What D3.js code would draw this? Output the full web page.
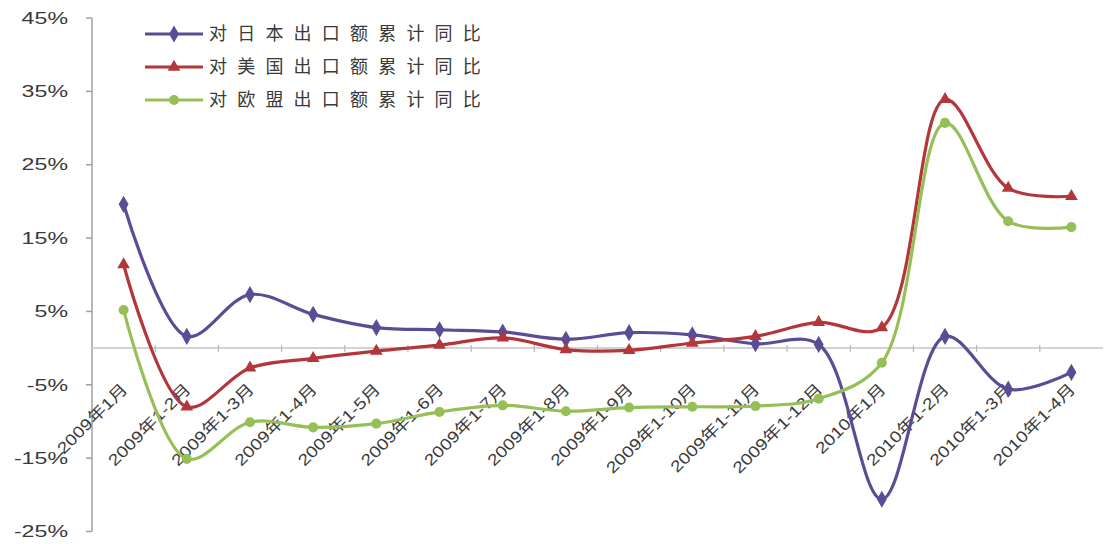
<!DOCTYPE html>
<html>
<head>
  <meta charset="utf-8">
  <title>对日美欧出口额累计同比</title>
  <script src="https://d3js.org/d3.v7.min.js"></script>
  <style>
    body { margin: 0; background: #fff; }
    text { font-family: "Liberation Sans", "Noto Sans CJK SC", sans-serif; fill: #3a3a3a; }
  </style>
</head>
<body>
  <svg id="chart"></svg>

  <script>
    // Data
    const months = ["2009年1月", "2009年1-2月", "2009年1-3月", "2009年1-4月", "2009年1-5月",
                    "2009年1-6月", "2009年1-7月", "2009年1-8月", "2009年1-9月", "2009年1-10月",
                    "2009年1-11月", "2009年1-12月", "2010年1月", "2010年1-2月", "2010年1-3月",
                    "2010年1-4月"];
    const japan = [19.6, 1.6, 7.3, 4.6, 2.8, 2.5, 2.2, 1.2, 2.1, 1.8, 0.6, 0.5, -20.6, 1.6, -5.6, -3.3];
    const usa = [11.4, -8.0, -2.7, -1.4, -0.4, 0.4, 1.4, -0.2, -0.3, 0.7, 1.6, 3.5, 2.8, 33.9, 21.8, 20.7];
    const eu = [5.2, -15.1, -10.1, -10.8, -10.3, -8.7, -7.8, -8.6, -8.1, -8.0, -7.9, -6.9, -2.0, 30.7, 17.3, 16.5];
    const yTicks = [45, 35, 25, 15, 5, -5, -15, -25];

    const series = [
      { name: "对日本出口额累计同比", values: japan, color: "#5b4c95", marker: "diamond" },
      { name: "对美国出口额累计同比", values: usa, color: "#b3363a", marker: "triangle" },
      { name: "对欧盟出口额累计同比", values: eu, color: "#97bf58", marker: "circle" }
    ];

    const width = 1105, height = 544;
    const svg = d3.select("#chart").attr("width", width).attr("height", height);

    // Scales
    const x = d3.scaleBand().domain(months).range([92, 1103]);
    const y = d3.scaleLinear().domain([-25, 45]).range([531.5, 18]);
    const cx = (d) => x(d) + x.bandwidth() / 2;

    // Y axis
    svg.append("line")
       .attr("x1", 92).attr("x2", 92)
       .attr("y1", y(45)).attr("y2", y(-25))
       .attr("stroke", "#a0a0a0").attr("stroke-width", 1.5);

    svg.selectAll(".ytick")
       .data(yTicks)
       .enter()
       .append("line")
       .attr("x1", 86).attr("x2", 92)
       .attr("y1", (d) => y(d)).attr("y2", (d) => y(d))
       .attr("stroke", "#a0a0a0").attr("stroke-width", 1.5);

    svg.selectAll(".ylabel")
       .data(yTicks)
       .enter()
       .append("text")
       .attr("transform", (d) => `translate(68,${y(d)}) scale(1.45,1)`)
       .attr("dy", "0.36em")
       .attr("text-anchor", "end")
       .style("font-size", "16px")
       .text((d) => d + "%");

    // X axis at zero
    svg.append("line")
       .attr("x1", 92).attr("x2", 1103)
       .attr("y1", y(0)).attr("y2", y(0))
       .attr("stroke", "#c4c4c4").attr("stroke-width", 1.5);

    svg.selectAll(".xtick")
       .data(months.slice(1))
       .enter()
       .append("line")
       .attr("x1", (d) => x(d)).attr("x2", (d) => x(d))
       .attr("y1", y(0) - 3).attr("y2", y(0) + 4)
       .attr("stroke", "#b8b8b8").attr("stroke-width", 1.2);

    svg.selectAll(".xlabel")
       .data(months)
       .enter()
       .append("text")
       .attr("transform", (d) => `translate(${cx(d) + 5},${y(0) + 42}) rotate(-45) scale(1.2,1)`)
       .attr("text-anchor", "end")
       .style("font-size", "16px")
       .text((d) => d);

    // Lines
    const line = d3.line()
                   .x((d, i) => cx(months[i]))
                   .y((d) => y(d))
                   .curve(d3.curveCatmullRom.alpha(0.5));

    const symbolType = { diamond: d3.symbolDiamond, triangle: d3.symbolTriangle, circle: d3.symbolCircle };
    const symbolSize = { diamond: 85, triangle: 70, circle: 80 };

    series.forEach((s) => {
      svg.append("path")
         .datum(s.values)
         .attr("d", line)
         .attr("fill", "none")
         .attr("stroke", s.color)
         .attr("stroke-width", 3.2);

      svg.selectAll(".m-" + s.marker)
         .data(s.values)
         .enter()
         .append("path")
         .attr("d", d3.symbol().type(symbolType[s.marker]).size(symbolSize[s.marker]))
         .attr("transform", (d, i) => `translate(${cx(months[i])},${y(d)})`)
         .attr("fill", s.color);
    });

    // Legend
    const legend = svg.selectAll(".legend")
                      .data(series)
                      .enter()
                      .append("g")
                      .attr("transform", (d, i) => `translate(145,${34 + i * 33})`);

    legend.append("line")
          .attr("x1", 0).attr("x2", 58)
          .attr("stroke", (d) => d.color).attr("stroke-width", 3.2);

    legend.append("path")
          .attr("d", (d) => d3.symbol().type(symbolType[d.marker]).size(symbolSize[d.marker])())
          .attr("transform", "translate(29,0)")
          .attr("fill", (d) => d.color);

    legend.append("text")
          .attr("x", 64)
          .attr("dy", "0.36em")
          .style("font-size", "18px")
          .style("letter-spacing", "10.2px")
          .text((d) => d.name);
  </script>
</body>
</html>
